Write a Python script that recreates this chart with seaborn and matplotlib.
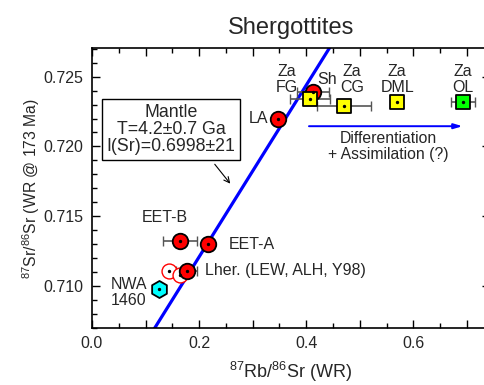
import numpy as np
import pandas as pd
import matplotlib
matplotlib.use("Agg")
from matplotlib import pyplot as plt
from matplotlib.ticker import MultipleLocator, FuncFormatter
import seaborn as sns

# isochron parameters
age_ga = 4.2
i_sr = 0.6998
lam_rb = 1.42e-11

# red circles: LA, Sh, EET-B, EET-A, Lher.
circ_names = ["LA", "Sh", "EET-B", "EET-A", "Lher"]
circ_x = [0.347, 0.413, 0.164, 0.217, 0.177]
circ_y = [0.7220, 0.7239, 0.7132, 0.7130, 0.7111]
circ_xerr = [0.0, 0.03, 0.032, 0.0, 0.02]

# open circles (Lher. LEW/ALH)
open_x = [0.144, 0.165]
open_y = [0.7111, 0.7108]

# Zagami lithologies
za_names = ["FG", "CG", "DML", "OL"]
za_x = [0.407, 0.471, 0.570, 0.693]
za_y = [0.7234, 0.7229, 0.7232, 0.7232]
za_xerr = [0.037, 0.05, 0.0, 0.023]
za_colors = ["#ffff00", "#ffff00", "#ffff00", "#00ff00"]

# NWA 1460
nwa_x = [0.125]
nwa_y = [0.70978]

sns.set_style("ticks")
plt.rcParams["font.family"] = ["Liberation Sans", "DejaVu Sans"]
plt.rcParams["mathtext.fontset"] = "custom"
plt.rcParams["mathtext.rm"] = "Liberation Sans"
plt.rcParams["mathtext.it"] = "Liberation Sans:italic"

fig = plt.figure(figsize=(4.85, 3.85), dpi=100)
ax = fig.add_axes([92 / 485, 1 - 328 / 385, 398 / 485, 280 / 385])

# isochron line
slope = np.exp(lam_rb * age_ga * 1e9) - 1
xl = np.linspace(0, 0.75, 20)
sns.lineplot(x=xl, y=i_sr + slope * xl, color="#0000ff", lw=2.3, ax=ax, zorder=2)

# error bars
ecol = "#555555"
ax.errorbar(circ_x, circ_y, xerr=circ_xerr, fmt="none", ecolor=ecol,
            elinewidth=1.2, capsize=3.5, zorder=3)
ax.errorbar(za_x, za_y, xerr=za_xerr, fmt="none", ecolor=ecol,
            elinewidth=1.2, capsize=3.5, zorder=3)

# open circles
sns.scatterplot(x=open_x, y=open_y, marker="o", s=115, facecolor="white",
                edgecolor="red", linewidth=1.0, ax=ax, zorder=4)
# red circles
circ_df = pd.DataFrame({"x": circ_x, "y": circ_y, "name": circ_names})
sns.scatterplot(data=circ_df, x="x", y="y", marker="o", s=125, color="#ff0000",
                edgecolor="black", linewidth=1.3, ax=ax, zorder=5)
# Zagami squares
za_df = pd.DataFrame({"x": za_x, "y": za_y, "c": za_colors})
for _, r in za_df.iterrows():
    sns.scatterplot(x=[r["x"]], y=[r["y"]], marker="s", s=100, color=r["c"],
                    edgecolor="black", linewidth=1.3, ax=ax, zorder=6)
# NWA hexagon
sns.scatterplot(x=nwa_x, y=nwa_y, marker="h", s=150, color="#00ffff",
                edgecolor="black", linewidth=1.3, ax=ax, zorder=6)

# centre dots
all_x = open_x + circ_x + za_x + nwa_x
all_y = open_y + circ_y + za_y + nwa_y
ax.scatter(all_x, all_y, s=2, color="black", zorder=7)

fs = 11.5
ax.text(0.329, 0.7220, "LA", ha="right", va="center", fontsize=fs)
ax.text(0.439, 0.7248, "Sh", ha="center", va="center", fontsize=fs)
za_lab_x = [0.364, 0.486, 0.570, 0.693]
for nm, lx in zip(za_names, za_lab_x):
    ax.text(lx, 0.7237, "Za\n" + nm, ha="center", va="bottom", fontsize=fs,
            linespacing=1.1)
ax.text(0.136, 0.7149, "EET-B", ha="center", va="center", fontsize=fs)
ax.text(0.256, 0.7130, "EET-A", ha="left", va="center", fontsize=fs)
ax.text(0.211, 0.7111, "Lher. (LEW, ALH, Y98)", ha="left", va="center", fontsize=fs)
ax.text(0.0355, 0.70953, "NWA\n1460", ha="left", va="center", fontsize=fs,
        linespacing=1.1)

ax.annotate("", xy=(0.697, 0.72145), xytext=(0.40, 0.72145),
            arrowprops=dict(arrowstyle="-|>,head_length=0.5,head_width=0.15",
                            color="#0000ff", lw=1.4))
ax.text(0.553, 0.7200, "Differentiation\n+ Assimilation (?)", ha="center",
        va="center", fontsize=11.3, linespacing=1.1)

ax.text(0.1475, 0.7212, "Mantle\nT=4.2\u00b10.7 Ga\nI(Sr)=0.6998\u00b121",
        ha="center", va="center", fontsize=12.8, linespacing=1.02,
        bbox=dict(boxstyle="square,pad=0.28", fc="white", ec="black", lw=1.0),
        zorder=8)
ax.annotate("", xy=(0.2614, 0.71718), xytext=(0.226, 0.71888),
            arrowprops=dict(arrowstyle="->", color="black", lw=0.8))

ax.set_xlim(0, 398 / 535.5)
ax.set_ylim(0.707, 0.72705)
ax.xaxis.set_major_locator(MultipleLocator(0.1))
ax.xaxis.set_minor_locator(MultipleLocator(0.05))
ax.xaxis.set_major_formatter(FuncFormatter(
    lambda v, p: f"{v:.1f}" if round(v * 10) % 2 == 0 else ""))
ax.yaxis.set_major_locator(MultipleLocator(0.005))
ax.yaxis.set_minor_locator(MultipleLocator(0.001))
ax.yaxis.set_major_formatter(FuncFormatter(lambda v, p: f"{v:.3f}"))
ax.tick_params(which="both", direction="in", top=True, right=True,
               labelsize=11.5, color="black", width=1.0)
ax.tick_params(which="major", length=6, pad=6)
ax.tick_params(which="minor", length=3.5)
for s in ax.spines.values():
    s.set_linewidth(1.2)
    s.set_color("black")

ax.set_xlabel("$^{87}$Rb/$^{86}$Sr (WR)", fontsize=13, labelpad=6)
ax.set_ylabel("$^{87}$Sr/$^{86}$Sr (WR @ 173 Ma)", fontsize=11.3, labelpad=1.5)
ax.set_title("Shergottites", fontsize=17, pad=10)

fig.savefig("out.png", dpi=100)
